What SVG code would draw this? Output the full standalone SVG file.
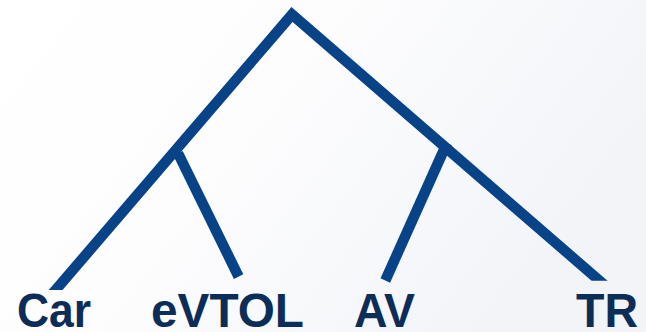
<svg xmlns="http://www.w3.org/2000/svg" width="646" height="332" viewBox="0 0 646 332">
  <defs>
    <linearGradient id="bg" x1="0" y1="0" x2="1" y2="0.4">
      <stop offset="0" stop-color="#ffffff"/>
      <stop offset="0.45" stop-color="#fdfdfe"/>
      <stop offset="1" stop-color="#f2f4f8"/>
    </linearGradient>
    <clipPath id="cut">
      <polygon points="0,0 646,0 646,280.7 320,280.7 320,290 0,290"/>
    </clipPath>
    <style>
      .edge { fill: none; stroke: #094387; stroke-width: 10.5; stroke-linejoin: miter; stroke-linecap: butt; }
      .lbl { font-family: "Liberation Sans", Arial, sans-serif; font-weight: bold; font-size: 48px; fill: #0b2d57; }
    </style>
  </defs>
  <rect width="646" height="332" fill="url(#bg)"/>
  <g id="connectors">
    <path class="edge" clip-path="url(#cut)" d="M 49.6 297 L 292 14.5 L 607.9 288"/>
    <path class="edge" d="M 178 153.3 L 238.6 276.6"/>
    <path class="edge" d="M 447 143 L 385.3 280.5"/>
  </g>
  <g id="node-car">
    <text class="lbl" x="17" y="327" textLength="74" lengthAdjust="spacingAndGlyphs">Car</text>
  </g>
  <g id="node-evtol">
    <text class="lbl" x="151" y="327" textLength="153" lengthAdjust="spacingAndGlyphs">eVTOL</text>
  </g>
  <g id="node-av">
    <text class="lbl" x="354" y="327" textLength="61" lengthAdjust="spacingAndGlyphs">AV</text>
  </g>
  <g id="node-tr">
    <text class="lbl" x="576" y="327" textLength="62" lengthAdjust="spacingAndGlyphs">TR</text>
  </g>
</svg>
